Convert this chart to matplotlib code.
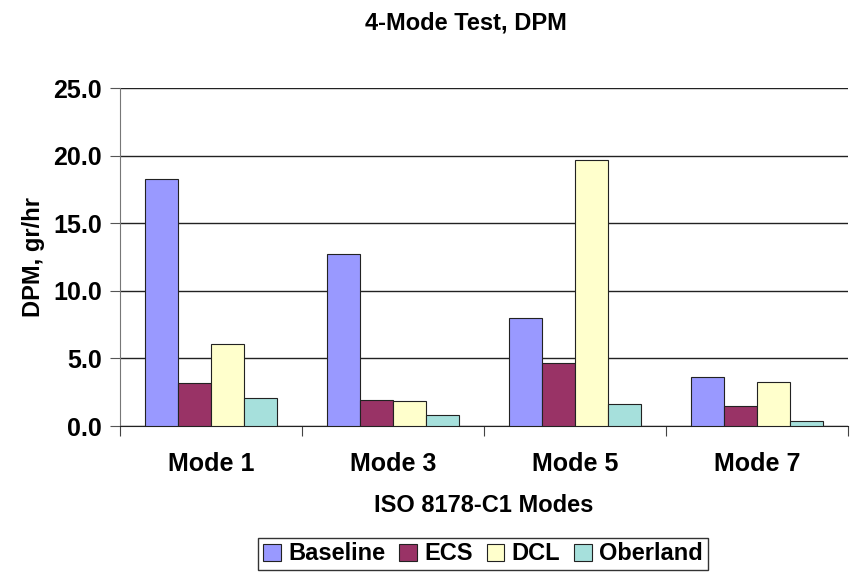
import numpy as np
import matplotlib.pyplot as plt

modes = ['Mode 1', 'Mode 3', 'Mode 5', 'Mode 7']
baseline = [18.3, 12.7, 8.0, 3.65]
ecs = [3.15, 1.9, 4.65, 1.5]
dcl = [6.05, 1.85, 19.7, 3.25]
oberland = [2.1, 0.8, 1.6, 0.38]

series = [('Baseline', baseline, '#9999FF'),
          ('ECS', ecs, '#993366'),
          ('DCL', dcl, '#FFFFCC'),
          ('Oberland', oberland, '#A6E0DC')]

plt.rcParams['font.family'] = ['Liberation Sans', 'DejaVu Sans']
plt.rcParams['font.weight'] = 'bold'

fig = plt.figure(figsize=(8.52, 5.75), dpi=100)
ax = fig.add_axes([120 / 852, 1 - 426 / 575, 728 / 852, 338 / 575])

x = np.arange(len(modes))
w = 1 / 5.5
for i, (name, vals, col) in enumerate(series):
    ax.bar(x + (i - 1.5) * w, vals, w, color=col, edgecolor='#222222',
           linewidth=0.8, label=name, zorder=3)

ax.set_xlim(-0.5, 3.5)
ax.set_ylim(0, 25)
ax.set_yticks(np.arange(0, 25.1, 5))
ax.set_yticklabels(['%.1f' % v for v in np.arange(0, 25.1, 5)])
ax.yaxis.grid(True, color='#222222', linewidth=1.0, zorder=0)

ax.set_xticks(np.arange(-0.5, 3.6, 1))
ax.set_xticklabels([])
ax.set_xticks(x, minor=True)
ax.set_xticklabels(modes, minor=True, fontsize=18, fontweight='bold')
ax.tick_params(axis='x', which='minor', length=0, pad=19)
ax.tick_params(axis='x', which='major', length=7, direction='out', color='#444444')
ax.tick_params(axis='y', length=7, direction='out', color='#555555',
               labelsize=18, pad=6)

for s in ['top', 'right']:
    ax.spines[s].set_visible(False)
ax.spines['left'].set_color('#777777')
ax.spines['bottom'].set_color('#222222')

ax.set_xlabel('ISO 8178-C1 Modes', fontsize=17, fontweight='bold', labelpad=13)
ax.set_ylabel('DPM, gr/hr', fontsize=17, fontweight='bold', labelpad=6)
fig.text(466 / 852, 1 - 23 / 575, '4-Mode Test, DPM', ha='center', va='center',
         fontsize=17, fontweight='bold')

leg = fig.legend(loc='center', bbox_to_anchor=(483 / 852, 1 - 554 / 575), ncol=4,
                 fontsize=17, frameon=True, fancybox=False, edgecolor='black',
                 handlelength=0.75, handleheight=0.75, handletextpad=0.3,
                 columnspacing=0.6, borderpad=0.2)
leg.get_frame().set_linewidth(1.0)

fig.savefig('out.png', dpi=100)
